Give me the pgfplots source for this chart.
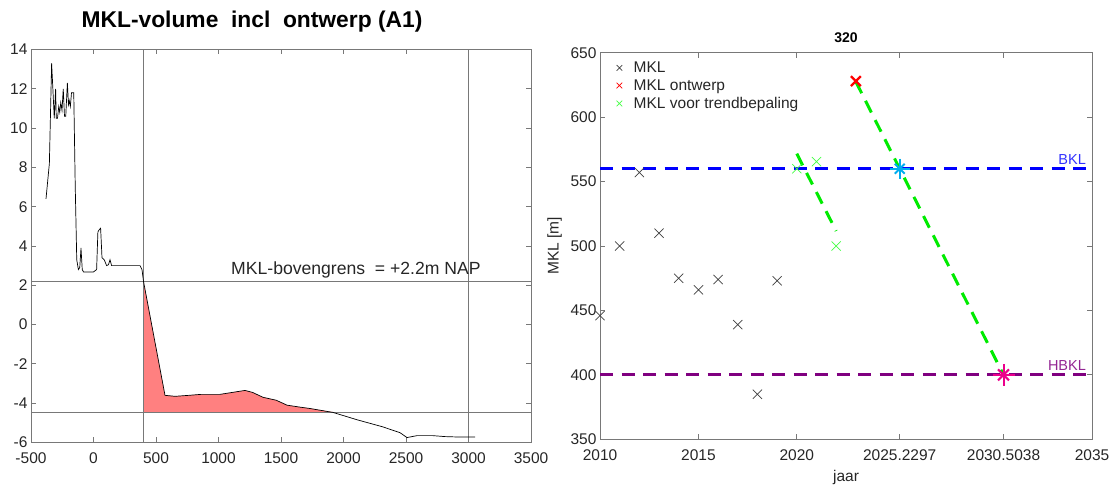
\documentclass[border=0pt]{standalone}
\usepackage{pgfplots}
\pgfplotsset{compat=1.18}
\usepackage{fontspec}
\setmainfont{Liberation Sans}
\definecolor{axgray}{RGB}{120,120,120}
\definecolor{txtgray}{RGB}{38,38,38}
\definecolor{fillred}{RGB}{255,128,128}
\definecolor{mklgreen}{RGB}{0,235,0}
\definecolor{ltgreen}{RGB}{70,255,70}
\definecolor{mpurple}{RGB}{128,0,128}
\definecolor{mblue}{RGB}{0,0,255}
\begin{document}
\begin{tikzpicture}[x=1pt,y=1pt]
\path[use as bounding box] (0,0) rectangle (1111,486);
% ---------------- left axis
\begin{axis}[at={(31pt,43.5pt)}, anchor=south west, scale only axis,
  width=500pt, height=393pt,
  xmin=-500, xmax=3500, ymin=-6, ymax=14,
  xtick={-500,0,...,3500}, ytick={-6,-4,...,14},
  tick align=inside, major tick length=5pt,
  axis line style={axgray, line width=0.8pt}, tick style={axgray, line width=0.8pt},
  tick label style={font=\fontsize{15.5}{17}\selectfont, text=txtgray},
  /pgf/number format/assume math mode=true,
  /pgf/number format/1000 sep={},
  xticklabel style={yshift=-7pt},
  axis on top=false]
\addplot[fillred, fill=fillred, draw=none] coordinates {
(400,-4.45) (400,2.2) (572,-3.6) (652,-3.65) (762,-3.6) (862,-3.55) (1012,-3.55)
(1112,-3.45) (1212,-3.35) (1272,-3.45) (1356,-3.7) (1462,-3.85) (1548,-4.1)
(1652,-4.2) (1732,-4.27) (1916,-4.45)} -- cycle;
\addplot[axgray, line width=0.8pt] coordinates {(-500,2.2) (3500,2.2)};
\addplot[axgray, line width=0.8pt] coordinates {(-500,-4.45) (3500,-4.45)};
\addplot[axgray, line width=0.8pt] coordinates {(400,-6) (400,14)};
\addplot[axgray, line width=0.8pt] coordinates {(3000,-6) (3000,14)};
\addplot[black, line width=0.7pt] coordinates {
(-380,6.4) (-353,8.2) (-335,13.3) (-322,11.6) (-314,10.5) (-303,12) (-298,10.5)
(-288,10.5) (-278,11.1) (-270,10.8) (-262,11.3) (-252,10.9) (-242,12) (-232,10.6)
(-222,10.6) (-209,12.3) (-200,11.2) (-194,11.4) (-185,11.1) (-176,11.8) (-158,11.8)
(-146,7) (-134,3.3) (-121,2.8) (-110,2.9) (-100,3.9) (-90,2.8) (-80,2.68) (-40,2.68)
(0,2.68) (25,2.8) (35,4.7) (42,4.8) (57,4.9) (68,3.4) (86,3.3) (105,3.0) (120,3.05)
(132,3.3) (145,3.0) (200,3.0) (300,3.0) (372,3.0) (388,2.8) (400,2.2) (572,-3.6)
(652,-3.65) (762,-3.6) (862,-3.55) (1012,-3.55) (1112,-3.45) (1212,-3.35) (1272,-3.45)
(1356,-3.7) (1462,-3.85) (1548,-4.1) (1652,-4.2) (1732,-4.27) (1916,-4.47)
(2112,-4.85) (2312,-5.2) (2452,-5.5) (2508,-5.75) (2588,-5.65) (2712,-5.65)
(2812,-5.7) (2912,-5.72) (3012,-5.72) (3052,-5.72)};
\node[anchor=base west, font=\fontsize{17.6}{19}\selectfont, text=txtgray, inner sep=0pt]
  at (axis cs:1100,2.55) {MKL-bovengrens\ \ = +2.2m NAP};
\end{axis}
\node[anchor=base, font=\bfseries\fontsize{22.8}{25}\selectfont, inner sep=0pt] at (252,458) {MKL-volume\ \ incl\ \ ontwerp (A1)};
% ---------------- right axis
\begin{axis}[at={(600pt,46.7pt)}, anchor=south west, scale only axis,
  width=492pt, height=386.5pt,
  xmin=2010, xmax=2035, ymin=350, ymax=650,
  xtick={2010,2015,2020,2025.2297,2030.5038,2035},
  xticklabels={2010,2015,2020,2025.2297,2030.5038,2035},
  ytick={350,400,...,650},
  tick align=inside, major tick length=5pt,
  axis line style={axgray, line width=0.8pt}, tick style={axgray, line width=0.8pt},
  tick label style={font=\fontsize{15.5}{17}\selectfont, text=txtgray},
  xticklabel style={yshift=-7pt},
  /pgf/number format/assume math mode=true,
  xlabel={jaar}, ylabel={MKL [m]},
  label style={font=\fontsize{15.5}{17}\selectfont, text=txtgray},
  xlabel style={yshift=-3pt}, ylabel style={yshift=2pt},
  legend style={at={(0.02,0.985)}, anchor=north west, draw=none, fill=none,
    font=\fontsize{15.5}{17}\selectfont, text=txtgray, row sep=1.5pt,
    inner sep=1pt},
  legend image code/.code={\path (0pt,0pt) (20pt,0pt); \draw[#1] plot coordinates {(8pt,0pt)};},
  legend cell align=left,
  clip=false]
\addlegendimage{only marks, mark=x, black!75, mark size=4pt, line width=0.7pt}
\addlegendentry{MKL}
\addlegendimage{only marks, mark=x, red, mark size=4pt, line width=0.7pt}
\addlegendentry{MKL ontwerp}
\addlegendimage{only marks, mark=x, ltgreen, mark size=4pt, line width=0.7pt}
\addlegendentry{MKL voor trendbepaling}
\addplot[forget plot, mblue, line width=3pt, dash pattern=on 13pt off 8.5pt] coordinates {(2010,560) (2035,560)};
\addplot[forget plot, mpurple, line width=3pt, dash pattern=on 13pt off 8.5pt] coordinates {(2010,400) (2035,400)};
\addplot[forget plot, mklgreen, line width=3pt, dash pattern=on 13pt off 8.5pt] coordinates {(2020,571.67) (2022,511.67)};
\addplot[forget plot, mklgreen, line width=3pt, dash pattern=on 13pt off 8.5pt] coordinates {(2023,627.6) (2030.5038,400)};
\addplot[forget plot, only marks, mark=x, black!75, mark size=6.5pt, line width=0.7pt] coordinates {
(2010,446) (2011,500) (2012,557) (2013,510) (2014,475) (2015,466) (2016,474)
(2017,439) (2018,385) (2019,473)};
\addplot[forget plot, only marks, mark=x, ltgreen, mark size=6.5pt, line width=0.7pt] coordinates {
(2020,560) (2021,565.5) (2022,500)};
\addplot[forget plot, only marks, mark=x, red, mark size=7pt, line width=2.4pt] coordinates {(2023,628)};
\addplot[forget plot, only marks, mark=+, cyan, mark size=10pt, line width=2pt] coordinates {(2025.2297,560)};
\addplot[forget plot, only marks, mark=x, cyan, mark size=7pt, line width=2pt] coordinates {(2025.2297,560)};
\addplot[forget plot, only marks, mark=+, magenta, mark size=11pt, line width=2pt] coordinates {(2030.5038,400)};
\addplot[forget plot, only marks, mark=x, magenta, mark size=7.8pt, line width=2pt] coordinates {(2030.5038,400)};
\node[anchor=south east, font=\fontsize{14.5}{16}\selectfont, text=mblue!80!white, inner sep=0pt] at (axis cs:2034.7,563) {BKL};
\node[anchor=south east, font=\fontsize{14.5}{16}\selectfont, text=mpurple!85!white, inner sep=0pt] at (axis cs:2034.7,403) {HBKL};
\node[anchor=base, font=\bfseries\fontsize{14}{16}\selectfont, inner sep=0pt] at (axis cs:2022.5,658) {320};
\end{axis}
\end{tikzpicture}
\end{document}
